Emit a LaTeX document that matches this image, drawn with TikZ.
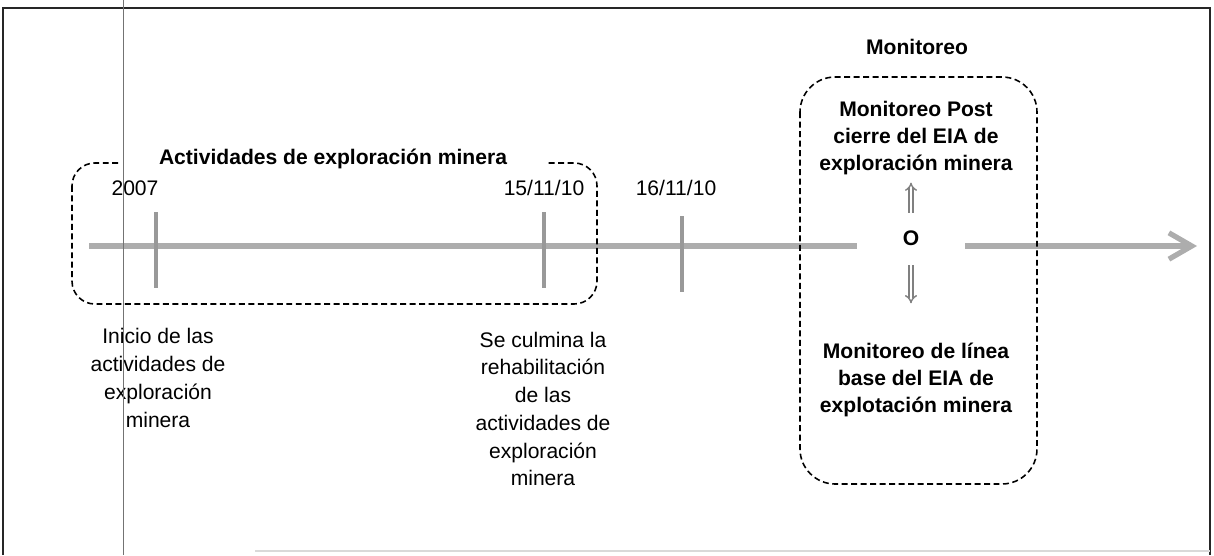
\documentclass[tikz,border=0pt]{standalone}
\usepackage{fontspec}
\setmainfont{Liberation Sans}
\usetikzlibrary{positioning,arrows.meta}
\begin{document}
\begin{tikzpicture}[x=0.02cm,y=-0.02cm,
  axis/.style = {draw=black!32, line width=3pt},
  tick/.style = {draw=black!40, line width=1.9pt},
  group/.style = {draw, line width=0.9pt, dash pattern=on 3.4pt off 2pt},
  txt/.style = {align=center, inner sep=0pt, font=\fontsize{12}{15.8}\selectfont},
  head/.style = {txt, font=\fontsize{12}{15.6}\selectfont\bfseries},
  choice/.style = {draw=black!50, double=white, double distance=1.5pt, line width=0.8pt, -{Implies[]}}]

\useasboundingbox (0,0) rectangle (1214,555);

% page frame
\draw[black!85, line width=1pt] (3,555) -- (3,8) -- (1210,8) -- (1210,555);
\draw[black!15, line width=0.6pt] (255,551) -- (1210,551);

% timeline
\coordinate (start) at (89,246);
\coordinate (end) at (1197,246);
\node[head] (o) at (911,238) {O};

\draw[axis, shorten >=1.08cm] (start) -- (start -| o);
\draw[axis, -{Straight Barb[length=13pt,width=15pt]}, shorten <=1.08cm] (end -| o) -- (end);

\draw[tick] (156,212) -- (156,288);
\draw[tick] (544,212) -- (544,288);
\draw[tick] (682,216) -- (682,292);

% exploration group
\draw[group, rounded corners=13pt] (72,163) rectangle (597,304);
\node[head, fill=white, inner xsep=22pt, inner ysep=2pt] (explo) at (333,159) {Actividades de exploración minera};

\node[txt, anchor=base] (d1) at (135,195) {2007};
\node[txt, anchor=base] (d2) at (544,195) {15/11/10};
\node[txt, anchor=base] (d3) at (676,195) {16/11/10};

\node[txt] (inicio) at (158,378) {Inicio de las\\actividades de\\exploración\\minera};
\node[txt] (culmina) at (543,409) {Se culmina la\\rehabilitación\\de las\\actividades de\\exploración\\minera};

% monitoring group
\draw[group, rounded corners=20pt] (800,77) rectangle (1037,484);
\node[head] (moni) at (917,47) {Monitoreo};
\node[head] (post) at (916,138) {Monitoreo Post\\cierre del EIA de\\exploración minera};
\node[head] (base) at (916,380) {Monitoreo de línea\\base del EIA de\\explotación minera};

\draw[choice, shorten <=0.35cm, shorten >=0.14cm] (o) -- (o |- post.south);
\draw[choice, shorten <=0.39cm, shorten >=0.78cm] (o) -- (o |- base.north);

% fold of the scanned page
\draw[black!55, line width=0.5pt] (123,0) -- (123,555);

\end{tikzpicture}
\end{document}
